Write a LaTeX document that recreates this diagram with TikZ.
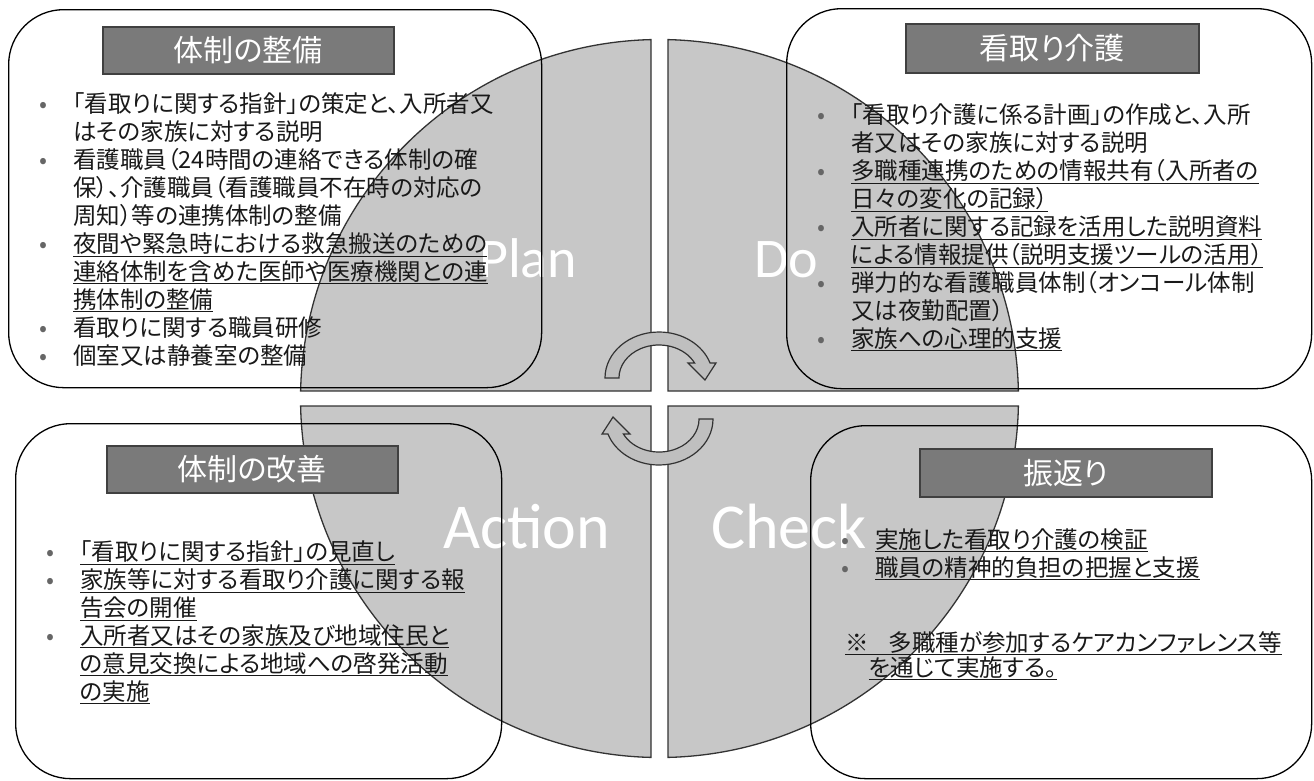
\documentclass[tikz,border=0pt]{standalone}
\usepackage{fontspec}
\setmainfont{Noto Sans CJK JP}[RawFeature=+palt]
\newfontfamily\pdcafont{Carlito}
\usetikzlibrary{positioning}

\definecolor{quadgray}{gray}{0.78}
\definecolor{titlegray}{gray}{0.48}
\definecolor{textblack}{gray}{0.1}
\definecolor{bulgray}{gray}{0.4}

\newcommand{\bul}{\makebox[34pt][l]{\makebox[8pt]{\textcolor{bulgray}{•}}}}
\newcommand{\ind}{\hspace*{34pt}}
\newcommand{\uln}[1]{\underline{#1}}

\begin{document}
\begin{tikzpicture}[x=1pt,y=-1pt,
	quadrant/.style={fill=quadgray,draw=black!80,line width=1.3pt},
	panel/.style={draw=black,line width=1.3pt,rounded corners=55pt,inner sep=0pt,anchor=north west},
	titlebar/.style={fill=titlegray,draw=black!75,line width=1.6pt,inner sep=0pt,anchor=north west,text=white,font=\fontsize{30}{32}\selectfont},
	body/.style={anchor=base west,align=left,inner sep=0pt,text=textblack,font=\fontsize{23.5}{27.9}\selectfont},
	pdca/.style={anchor=base west,inner sep=0pt,text=white},
	cyclearrow/.style={fill=black!25,draw=black!80,line width=1.2pt}]
	\fill[white] (0,0) rectangle (1314,780);
	\useasboundingbox (0,0) rectangle (1314,780);

	% four quarters of the circle
	\filldraw[quadrant] (651,391) -- (651,39.6) arc[start angle=268.64,end angle=181.2,radius=359] -- cycle;
	\filldraw[quadrant] (668,391) -- (668,39.6) arc[start angle=271.36,end angle=358.8,radius=359] -- cycle;
	\filldraw[quadrant] (651,406) -- (651,757.4) arc[start angle=91.36,end angle=178.8,radius=359] -- cycle;
	\filldraw[quadrant] (668,406) -- (668,757.4) arc[start angle=88.64,end angle=1.2,radius=359] -- cycle;

	\node[pdca,font=\pdcafont\fontsize{56}{56}\selectfont] (plan) at (479,277) {Plan};
	\node[pdca,font=\pdcafont\fontsize{56}{56}\selectfont] (do) at (754,277) {Do};
	\node[pdca,font=\pdcafont\fontsize{64}{64}\selectfont] (action) at (443,548) {Action};
	\node[pdca,font=\pdcafont\fontsize{64}{64}\selectfont] (check) at (711,548) {Check};

	% panels
	\node[panel,minimum width=533pt,minimum height=378pt] (seibi) at (8,9) {};
	\node[panel,minimum width=525pt,minimum height=380pt] (kaigo) at (786,8) {};
	\node[panel,minimum width=486pt,minimum height=355pt] (kaizen) at (15,423) {};
	\node[panel,minimum width=501pt,minimum height=353pt] (furikaeri) at (810,425) {};

	\node[titlebar,minimum width=291pt,minimum height=47pt] (seibi title) at (102,26) {体制の整備};
	\node[titlebar,minimum width=293pt,minimum height=49pt] (kaigo title) at (905,23) {看取り介護};
	\node[titlebar,minimum width=291pt,minimum height=47pt] (kaizen title) at (106,445) {体制の改善};
	\node[titlebar,minimum width=292pt,minimum height=48pt] (furikaeri title) at (919,448) {振返り};

	% text blocks, placed at the baseline of their last line
	\node[body] (seibi text) at (39,364) {\bul 「看取りに関する指針」の策定と、入所者又\\
		\ind はその家族に対する説明\\
		\bul 看護職員（24時間の連絡できる体制の確\\
		\ind 保）、介護職員（看護職員不在時の対応の\\
		\ind 周知）等の連携体制の整備\\
		\bul \uln{夜間や緊急時における救急搬送のための}\\
		\ind \uln{連絡体制を含めた医師や医療機関との連}\\
		\ind \uln{携体制の整備}\\
		\bul 看取りに関する職員研修\\
		\bul 個室又は静養室の整備};
	\node[body] (kaigo text) at (817,347) {\bul 「看取り介護に係る計画」の作成と、入所\\
		\ind 者又はその家族に対する説明\\
		\bul \uln{多職種連携のための情報共有（入所者の}\\
		\ind \uln{日々の変化の記録）}\\
		\bul \uln{入所者に関する記録を活用した説明資料}\\
		\ind \uln{による情報提供（説明支援ツールの活用）}\\
		\bul 弾力的な看護職員体制（オンコール体制\\
		\ind 又は夜勤配置）\\
		\bul \uln{家族への心理的支援}};
	\node[body] (kaizen text) at (46,700) {\bul \uln{「看取りに関する指針」の見直し}\\
		\bul \uln{家族等に対する看取り介護に関する報}\\
		\ind \uln{告会の開催}\\
		\bul \uln{入所者又はその家族及び地域住民と}\\
		\ind \uln{の意見交換による地域への啓発活動}\\
		\ind \uln{の実施}};
	\node[body] (furikaeri text) at (841,576) {\bul \uln{実施した看取り介護の検証}\\
		\bul \uln{職員の精神的負担の把握と支援}};
	\node[body,font=\fontsize{23.5}{25}\selectfont] (furikaeri note) at (845,676) {\uln{※\hspace{0.85em}多職種が参加するケアカンファレンス等}\\
		\hspace*{1em}\uln{を通じて実施する。}};

	% cycle arrows
	\draw[cyclearrow] (605,378) arc[start angle=180,end angle=341,x radius=54,y radius=46]
		-- (716,363) -- (705,380) -- (688,363) -- (694.6,363)
		arc[start angle=333,end angle=180,x radius=40,y radius=33] -- cycle;
	\draw[cyclearrow] (713,419) arc[start angle=0,end angle=161,x radius=54,y radius=46]
		-- (602,434) -- (613,417) -- (630,434) -- (623.4,434)
		arc[start angle=153,end angle=0,x radius=40,y radius=33] -- cycle;
\end{tikzpicture}
\end{document}
